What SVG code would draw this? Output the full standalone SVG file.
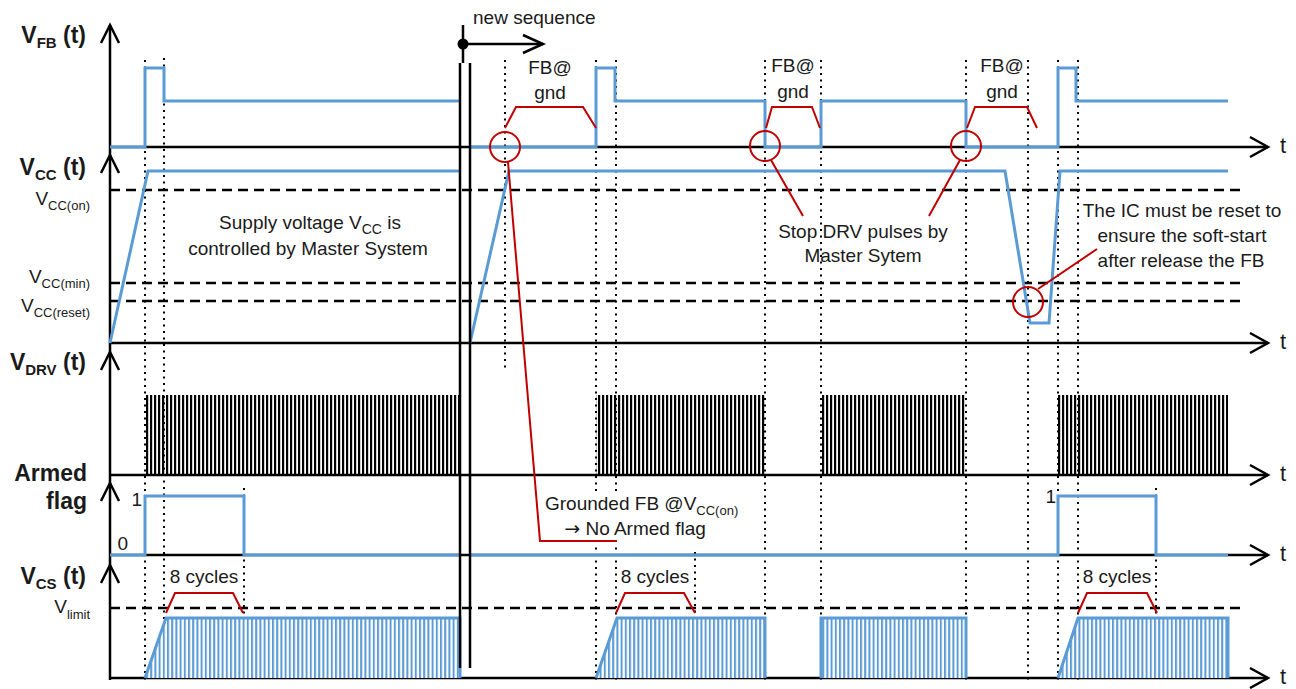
<svg xmlns="http://www.w3.org/2000/svg" width="1296" height="689" viewBox="0 0 1296 689">
<style>
text{font-family:"Liberation Sans",Arial,sans-serif;fill:#1a1a1a}
.ax{stroke:#000;stroke-width:2.5;fill:none}
.ah{stroke:#000;stroke-width:2.5;fill:none;stroke-linejoin:miter}
.dash{stroke:#000;stroke-width:2.5;stroke-dasharray:10 6;fill:none}
.dot{stroke:#000;stroke-width:2;stroke-dasharray:2 4.5;fill:none}
.wave{stroke:#5B9BD5;stroke-width:3;fill:none;stroke-linejoin:miter}
.red{stroke:#C00000;stroke-width:2;fill:none}
.lbl{font-weight:bold;font-size:23px}
.ann{font-size:19px}
.t{font-size:22px;text-anchor:middle}
</style>
<defs>
<pattern id="drv" patternUnits="userSpaceOnUse" x="146" y="0" width="4" height="10"><rect x="0" y="0" width="2.2" height="10" fill="#000"/></pattern>
<pattern id="cs" patternUnits="userSpaceOnUse" x="146" y="0" width="4.2" height="10"><rect x="0" y="0" width="4.2" height="10" fill="#fff"/><rect x="0" y="0" width="2" height="10" fill="#5B9BD5"/></pattern>
</defs>
<rect width="1296" height="689" fill="#fff"/>

<g id="guides">
<path class="dash" d="M110,190H1240M110,283H1240M110,301H1240M110,608H1240"/>
<path class="dot" d="M145,60V682M164,58V682M244,488V682M505,60V370M596,60V682M616,60V682M695,552V682M765,60V682M821,60V682M966,60V682M1028,60V682M1058,60V682M1078,60V682M1156,488V682"/>
</g>

<g id="axes">
<path class="ax" d="M110,25V680"/>
<path class="ah" d="M101,43L110,25L119,43M101,173L110,155L119,173M101,370L110,352L119,370M101,501L110,483L119,501M101,583L110,565L119,583"/>
<path class="ax" d="M110,147H1268M110,343H1268M110,475H1268M110,555H1268M110,678H1268"/>
<path class="ah" d="M1250,137L1268,147L1250,157M1250,333L1268,343L1250,353M1250,465L1268,475L1250,485M1250,545L1268,555L1250,565M1250,668L1268,678L1250,688"/>
</g>

<g id="vfb">
<path class="wave" d="M110,147H145V68H164V101H460"/>
<path class="wave" d="M470,147H596V68H615V101H765V147H821V101H966V147H1058V68H1076V101H1228"/>
</g>

<g id="vcc">
<path class="wave" d="M110,343L148,171H460"/>
<path class="wave" d="M470,343L509,171H1005L1030,323H1049L1060,171H1228"/>
</g>

<g id="vdrv">
<rect x="146" y="395" width="314" height="80" fill="url(#drv)"/>
<rect x="596" y="395" width="169" height="80" fill="url(#drv)"/>
<rect x="822" y="395" width="144" height="80" fill="url(#drv)"/>
<rect x="1058" y="395" width="170" height="80" fill="url(#drv)"/>
</g>

<g id="armed">
<path class="wave" d="M110,555H145V496H244V555H460"/>
<path class="wave" d="M470,555H1058V496H1156V555H1228"/>
</g>

<g id="vcs">
<path d="M145,678L166,618H460V678Z" fill="url(#cs)"/>
<path class="wave" d="M145,678L166,618H460V678"/>
<path d="M596,678L617,618H765V678Z" fill="url(#cs)"/>
<path class="wave" d="M596,678L617,618H765V678"/>
<path d="M821,678V618H966V678Z" fill="url(#cs)"/>
<path class="wave" d="M821,678V618H966V678"/>
<path d="M1058,678L1078,618H1228V678Z" fill="url(#cs)"/>
<path class="wave" d="M1058,678L1078,618H1228V678"/>
</g>

<g id="new-sequence">
<path class="ax" d="M460,63V668M470,63V668"/>
<path class="ax" d="M463,25V63M463,44H543"/>
<path class="ah" d="M523,35L543,44L523,53"/>
<circle cx="463" cy="44" r="5.5" fill="#000"/>
<text class="ann" x="473" y="24" font-size="20">new sequence</text>
</g>

<rect x="543" y="493" width="184" height="53" fill="#fff"/>

<g id="annotations">
<path class="red" d="M505,128L516,107H583L596,128"/>
<path class="red" d="M766,128L772,107H812L820,128"/>
<path class="red" d="M967,128L975,107H1027L1037,128"/>
<path class="red" d="M166,613L175,593H233L243,613"/>
<path class="red" d="M616,613L625,593H684L695,613"/>
<path class="red" d="M1078,613L1087,593H1147L1157,613"/>
<circle class="red" cx="505" cy="147" r="15" stroke-width="1.6"/>
<circle class="red" cx="765" cy="146" r="15" stroke-width="1.6"/>
<circle class="red" cx="966" cy="146" r="15" stroke-width="1.6"/>
<circle class="red" cx="1028" cy="302" r="15" stroke-width="1.6"/>
<path class="red" d="M508,162L540,541H617"/>
<path class="red" d="M771,160L803,216"/>
<path class="red" d="M960,160L929,216"/>
<path class="red" d="M1038,289L1097,249"/>
</g>

<g id="labels">
<text class="lbl" x="86" y="43" text-anchor="end">V<tspan font-size="15" dy="5">FB</tspan><tspan dy="-5"> (t)</tspan></text>
<text class="lbl" x="86" y="175" text-anchor="end">V<tspan font-size="15" dy="5">CC</tspan><tspan dy="-5"> (t)</tspan></text>
<text class="lbl" x="86" y="370" text-anchor="end">V<tspan font-size="15" dy="5">DRV</tspan><tspan dy="-5"> (t)</tspan></text>
<text class="lbl" x="87" y="481" text-anchor="end">Armed</text>
<text class="lbl" x="87" y="509" text-anchor="end">flag</text>
<text class="lbl" x="86" y="584" text-anchor="end">V<tspan font-size="15" dy="5">CS</tspan><tspan dy="-5"> (t)</tspan></text>

<text class="ann" x="90" y="205" text-anchor="end">V<tspan font-size="13" dy="5">CC(on)</tspan></text>
<text class="ann" x="90" y="283" text-anchor="end">V<tspan font-size="13" dy="5">CC(min)</tspan></text>
<text class="ann" x="90" y="312" text-anchor="end">V<tspan font-size="13" dy="5">CC(reset)</tspan></text>
<text class="ann" x="90" y="613" text-anchor="end">V<tspan font-size="13" dy="6">limit</tspan></text>

<text class="ann" x="142" y="506" text-anchor="end">1</text>
<text class="ann" x="128" y="550" text-anchor="end">0</text>
<text class="ann" x="1056" y="503" text-anchor="end">1</text>

<text class="t" x="1283" y="153">t</text>
<text class="t" x="1283" y="349">t</text>
<text class="t" x="1283" y="481">t</text>
<text class="t" x="1283" y="561">t</text>
<text class="t" x="1283" y="684">t</text>

<text class="ann" text-anchor="middle" x="550" y="74">FB@</text>
<text class="ann" text-anchor="middle" x="550" y="99">gnd</text>
<text class="ann" text-anchor="middle" x="793" y="72">FB@</text>
<text class="ann" text-anchor="middle" x="793" y="98">gnd</text>
<text class="ann" text-anchor="middle" x="1002" y="72">FB@</text>
<text class="ann" text-anchor="middle" x="1002" y="98">gnd</text>

<text class="ann" text-anchor="middle" x="204" y="583">8 cycles</text>
<text class="ann" text-anchor="middle" x="655" y="583">8 cycles</text>
<text class="ann" text-anchor="middle" x="1117" y="583">8 cycles</text>

<text class="ann" text-anchor="middle" x="310" y="229">Supply voltage V<tspan font-size="14" dy="5">CC</tspan><tspan dy="-5"> is</tspan></text>
<text class="ann" text-anchor="middle" x="308" y="255">controlled by Master System</text>

<text class="ann" font-size="18" text-anchor="middle" x="863" y="238">Stop DRV pulses by</text>
<text class="ann" font-size="18" text-anchor="middle" x="863" y="262">Master Sytem</text>

<text class="ann" font-size="18" text-anchor="middle" x="1182" y="217">The IC must be reset to</text>
<text class="ann" font-size="18" text-anchor="middle" x="1182" y="242">ensure the soft-start</text>
<text class="ann" font-size="18" text-anchor="middle" x="1181" y="267">after release the FB</text>

<text class="ann" font-size="18" x="545" y="510">Grounded FB @V<tspan font-size="13" dy="5">CC(on)</tspan></text>
<text class="ann" font-size="18" text-anchor="middle" x="635" y="535"><tspan font-family="'DejaVu Sans',sans-serif">→</tspan> No Armed flag</text>
</g>
</svg>
